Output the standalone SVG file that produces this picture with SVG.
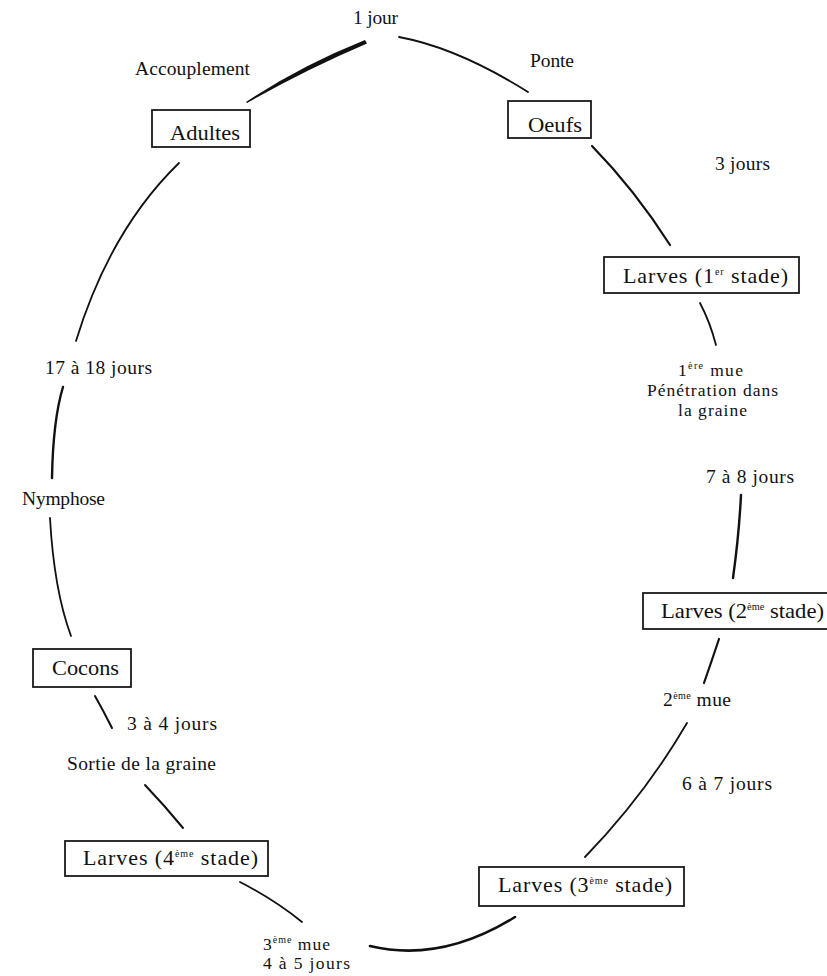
<svg xmlns="http://www.w3.org/2000/svg" width="827" height="976" viewBox="0 0 827 976">
<style>
.bg{fill:#ffffff}
.box rect{fill:#ffffff;stroke:#1a1a1a;stroke-width:1.8}
text{font-family:"Liberation Serif","Times New Roman",serif;fill:#111111}
.lbl{font-size:19.5px}
.sm{font-size:17.5px}
.name{font-size:22px}
.sup{font-size:10px}
.c{fill:none;stroke:#111111;stroke-width:1.8;stroke-linecap:round}
.t{fill:#111111;stroke:none}
</style>
<rect class="bg" x="0" y="0" width="827" height="976"/>

<g id="connectors">
  <path class="t" d="M246,102 Q300,66 365,40 L367,43.5 Q305,70 247,103 Z"/>
  <path class="c" d="M399,37 Q458,48 528,92"/>
  <path class="c" d="M592,146 Q635,190 670,245" style="stroke-width:2.2"/>
  <path class="c" d="M700,303 Q710,322 716,345"/>
  <path class="c" d="M741,495 Q739,535 733,578" style="stroke-width:2.4"/>
  <path class="c" d="M719,639 Q712,660 704,683" style="stroke-width:2.2"/>
  <path class="c" d="M687,723 Q645,795 585,857"/>
  <path class="c" d="M515,917 C470,945 420,958 370,946" style="stroke-width:2.6"/>
  <path class="c" d="M240,882 Q275,900 302,922"/>
  <path class="c" d="M145,785 Q165,806 183,828" style="stroke-width:2"/>
  <path class="c" d="M95,696 Q104,712 112,728" style="stroke-width:2"/>
  <path class="c" d="M50,518 Q54,590 71,636"/>
  <path class="c" d="M63,387 Q53,420 52,478" style="stroke-width:2.4"/>
  <path class="c" d="M179,163 Q110,230 76,341"/>
</g>

<g id="adultes" class="box">
  <rect x="152" y="110" width="98" height="37"/>
  <text class="name" x="170" y="140" textLength="70" lengthAdjust="spacingAndGlyphs">Adultes</text>
</g>
<g id="oeufs" class="box">
  <rect x="508" y="101" width="83" height="37"/>
  <text class="name" x="528" y="132" textLength="54" lengthAdjust="spacingAndGlyphs">Oeufs</text>
</g>
<g id="larves1" class="box">
  <rect x="604" y="257" width="195" height="36"/>
  <text class="name" x="623" y="283" textLength="165" lengthAdjust="spacing">Larves (1<tspan class="sup" dy="-8">er</tspan><tspan dy="8"> stade)</tspan></text>
</g>
<g id="larves2" class="box">
  <rect x="643" y="593" width="200" height="36"/>
  <text class="name" x="661" y="618" textLength="163" lengthAdjust="spacingAndGlyphs">Larves (2<tspan class="sup" dy="-8">ème</tspan><tspan dy="8"> stade)</tspan></text>
</g>
<g id="larves3" class="box">
  <rect x="479" y="867" width="205" height="39"/>
  <text class="name" x="498" y="892" textLength="174" lengthAdjust="spacing">Larves (3<tspan class="sup" dy="-8">ème</tspan><tspan dy="8"> stade)</tspan></text>
</g>
<g id="larves4" class="box">
  <rect x="65" y="841" width="203" height="35"/>
  <text class="name" x="83" y="865" textLength="175" lengthAdjust="spacing">Larves (4<tspan class="sup" dy="-8">ème</tspan><tspan dy="8"> stade)</tspan></text>
</g>
<g id="cocons" class="box">
  <rect x="33" y="649" width="98" height="38"/>
  <text class="name" x="52" y="675" textLength="67" lengthAdjust="spacingAndGlyphs">Cocons</text>
</g>

<g id="labels">
  <text class="lbl" x="353" y="24" textLength="45" lengthAdjust="spacing">1 jour</text>
  <text class="lbl" x="135" y="75" textLength="115" lengthAdjust="spacing">Accouplement</text>
  <text class="lbl" x="530" y="67" textLength="44" lengthAdjust="spacing">Ponte</text>
  <text class="lbl" x="715" y="170" textLength="55" lengthAdjust="spacing">3 jours</text>
  <text class="sm" x="678" y="376" textLength="65" lengthAdjust="spacing">1<tspan class="sup" dy="-7">ère</tspan><tspan dy="7"> mue</tspan></text>
  <text class="sm" x="647" y="396" textLength="131" lengthAdjust="spacing">Pénétration dans</text>
  <text class="sm" x="678" y="416" textLength="69" lengthAdjust="spacing">la graine</text>
  <text class="lbl" x="706" y="483" textLength="88" lengthAdjust="spacing">7 à 8 jours</text>
  <text class="lbl" x="663" y="706" textLength="68" lengthAdjust="spacing">2<tspan class="sup" dy="-7">ème</tspan><tspan dy="7"> mue</tspan></text>
  <text class="lbl" x="682" y="790" textLength="90" lengthAdjust="spacing">6 à 7 jours</text>
  <text class="sm" x="263" y="950" textLength="67" lengthAdjust="spacing">3<tspan class="sup" dy="-7">ème</tspan><tspan dy="7"> mue</tspan></text>
  <text class="sm" x="263" y="969" textLength="87" lengthAdjust="spacing">4 à 5 jours</text>
  <text class="lbl" x="67" y="770" textLength="149" lengthAdjust="spacing">Sortie de la graine</text>
  <text class="lbl" x="127" y="730" textLength="90" lengthAdjust="spacing">3 à 4 jours</text>
  <text class="lbl" x="22" y="505" textLength="83" lengthAdjust="spacing">Nymphose</text>
  <text class="lbl" x="45" y="374" textLength="107" lengthAdjust="spacing">17 à 18 jours</text>
</g>
</svg>
